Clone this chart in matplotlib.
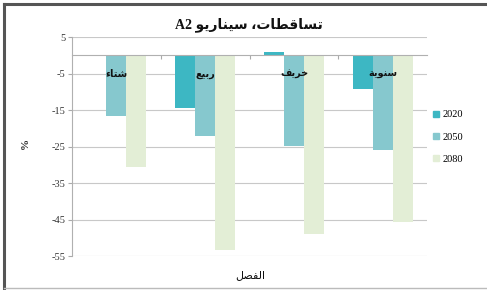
import matplotlib
matplotlib.use("Agg")
import matplotlib.pyplot as plt
from matplotlib.lines import Line2D
import numpy as np

seasons = ["شتاء", "ربيع", "خريف", "سنوية"]
years = ["2020", "2050", "2080"]
v2020 = [0.0, -14.3, 1.0, -9.1]
v2050 = [-16.7, -22.0, -24.7, -25.8]
v2080 = [-30.7, -53.4, -49.0, -45.7]
yticks = [5, -5, -15, -25, -35, -45, -55]
colors = ["#3db7c3", "#86c8ce", "#e3eed6"]

# matplotlib does no Arabic shaping: pick presentation forms by hand, then reverse
FORMS = {
    "ا": (0xFE8D, 0xFE8E), "ب": (0xFE8F, 0xFE90, 0xFE91, 0xFE92),
    "ة": (0xFE93, 0xFE94), "ت": (0xFE95, 0xFE96, 0xFE97, 0xFE98),
    "خ": (0xFEA5, 0xFEA6, 0xFEA7, 0xFEA8), "ر": (0xFEAD, 0xFEAE),
    "س": (0xFEB1, 0xFEB2, 0xFEB3, 0xFEB4), "ش": (0xFEB5, 0xFEB6, 0xFEB7, 0xFEB8),
    "ص": (0xFEB9, 0xFEBA, 0xFEBB, 0xFEBC), "ط": (0xFEC1, 0xFEC2, 0xFEC3, 0xFEC4),
    "ع": (0xFEC9, 0xFECA, 0xFECB, 0xFECC), "ف": (0xFED1, 0xFED2, 0xFED3, 0xFED4),
    "ق": (0xFED5, 0xFED6, 0xFED7, 0xFED8), "ل": (0xFEDD, 0xFEDE, 0xFEDF, 0xFEE0),
    "ن": (0xFEE5, 0xFEE6, 0xFEE7, 0xFEE8), "و": (0xFEED, 0xFEEE),
    "ي": (0xFEF1, 0xFEF2, 0xFEF3, 0xFEF4), "ء": (0xFE80,),
}


def shape(s):
    out = []
    for i, ch in enumerate(s):
        forms = FORMS.get(ch)
        if forms is None:
            out.append(ch)
            continue
        prev = s[i - 1] if i > 0 else ""
        nxt = s[i + 1] if i + 1 < len(s) else ""
        jp = prev in FORMS and len(FORMS[prev]) == 4
        jn = len(forms) == 4 and nxt in FORMS and len(FORMS[nxt]) > 1
        idx = {(False, False): 0, (True, False): 1, (False, True): 2, (True, True): 3}[(jp, jn)]
        out.append(chr(forms[idx]))
    return "".join(reversed(out))


FONT = ["Liberation Serif", "DejaVu Sans"]
AR = ["DejaVu Sans"]

fig = plt.figure(figsize=(4.87, 2.90), dpi=100)
ax = fig.add_axes([0.148, 0.117, 0.729, 0.755])

x = np.arange(len(seasons))
w = 0.225
for k, (vals, c, lab) in enumerate(zip([v2020, v2050, v2080], colors, years)):
    ax.bar(x + (k - 1) * w, vals, width=w, color=c, label=lab, zorder=3)

ax.set_xlim(-0.5, 3.5)
ax.set_ylim(-55, 5)
ax.set_yticks(yticks)
ax.set_yticklabels([str(t) for t in yticks], family=FONT, fontsize=7.5, color="#333333")
ax.grid(axis="y", color="#c8c8c8", linewidth=0.8, zorder=0)
ax.set_xticks(x[:-1] + 0.5)
ax.set_xticklabels([])
ax.tick_params(axis="y", length=3, color="#aaaaaa", pad=2)
ax.tick_params(axis="x", length=3, color="#aaaaaa", direction="out")

for s in ["top", "right"]:
    ax.spines[s].set_visible(False)
ax.spines["left"].set_color("#b0b0b0")
ax.spines["bottom"].set_position(("data", 0))
ax.spines["bottom"].set_color("#b0b0b0")
ax.spines["bottom"].set_zorder(4)

for i, name in enumerate(seasons):
    ax.text(i, -5, shape(name), ha="center", va="center", family=AR,
            fontsize=7, fontweight="bold", color="#111111", zorder=5)

fig.text(0.512, 0.915, "A2 " + shape("تساقطات، سيناريو"), ha="center", va="center",
         family=FONT, fontsize=10, fontweight="bold", color="#111111")
fig.text(0.513, 0.05, shape("الفصل"), ha="center", va="center", family=AR,
         fontsize=8, color="#111111")
fig.text(0.052, 0.505, "%", ha="center", va="center", rotation=90, family=FONT,
         fontsize=8, fontweight="bold", color="#222222")

handles = [Line2D([], [], marker="s", linestyle="", markersize=4.5, color=c) for c in colors]
fig.legend(handles, years, loc="upper left", bbox_to_anchor=(0.88, 0.635), frameon=False,
           prop={"family": FONT, "size": 7.5}, handlelength=0.6, handletextpad=0.3,
           labelspacing=1.25, borderaxespad=0)

# outer frame: dark top/left, light bottom/right
fig.add_artist(Line2D([0.008, 0.998], [0.987, 0.987], color="#555555", linewidth=2.2, transform=fig.transFigure))
fig.add_artist(Line2D([0.008, 0.008], [0.008, 0.987], color="#555555", linewidth=2.2, transform=fig.transFigure))
fig.add_artist(Line2D([0.008, 0.998], [0.008, 0.008], color="#bbbbbb", linewidth=1, transform=fig.transFigure))

fig.savefig("out.png", dpi=100)
